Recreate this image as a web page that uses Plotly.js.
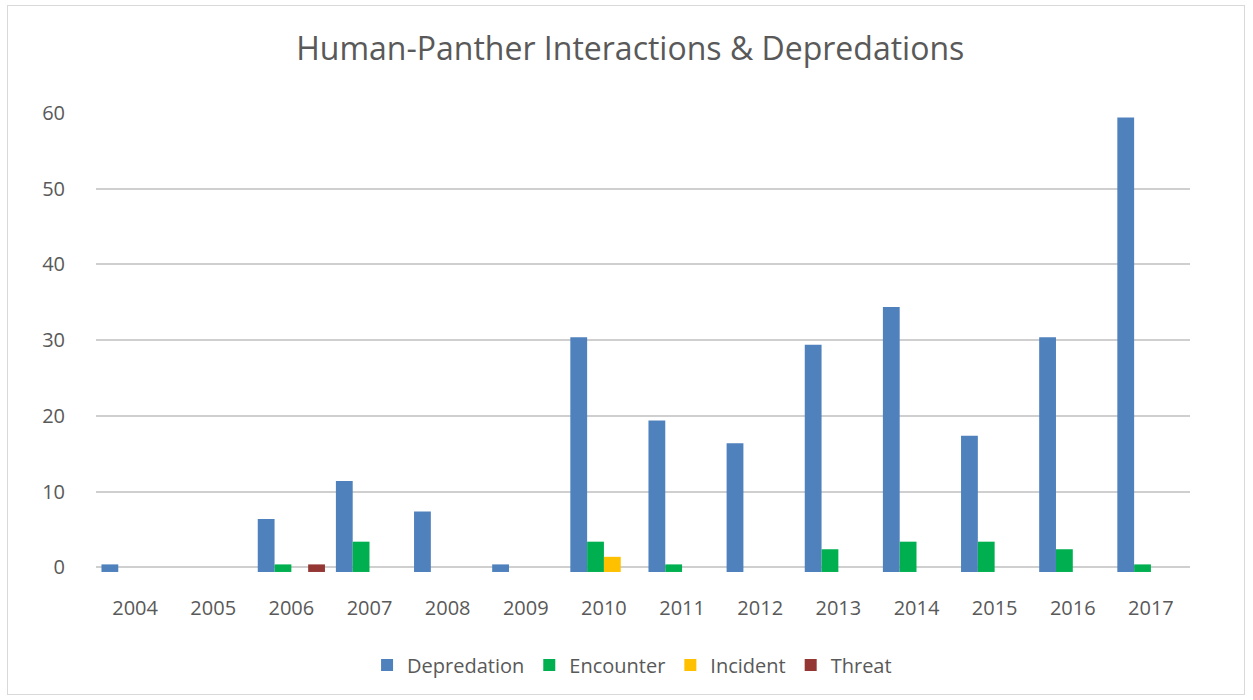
<!DOCTYPE html>
<html>
<head>
<meta charset="utf-8">
<script src="https://cdn.plot.ly/plotly-3.0.1.min.js"></script>
<style>
html,body{margin:0;padding:0;background:#fff;}
#frame{position:absolute;left:7px;top:5px;width:1238px;height:690px;border:1px solid #d9d9d9;box-sizing:border-box;}
#chart{position:absolute;left:0;top:0;width:1253px;height:700px;}
</style>
</head>
<body>
<div id="frame"></div>
<div id="chart"></div>
<script>
const years = ['2004','2005','2006','2007','2008','2009','2010','2011','2012','2013','2014','2015','2016','2017'];
const depredation = [1,0,7,12,8,1,31,20,17,30,35,18,31,60];
const encounter   = [0,0,1,4,0,0,4,1,0,3,4,4,3,1];
const incident    = [0,0,0,0,0,0,2,0,0,0,0,0,0,0];
const threat      = [0,0,1,0,0,0,0,0,0,0,0,0,0,0];
const yTicks = [0,10,20,30,40,50,60];

const series = [
  {name:'Depredation', y:depredation, color:'#4f81bd'},
  {name:'Encounter',   y:encounter,   color:'#00b050'},
  {name:'Incident',    y:incident,    color:'#ffc000'},
  {name:'Threat',      y:threat,      color:'#943634'}
];

const traces = series.map(s => ({
  type:'bar', name:s.name, x:years, y:s.y, base:-0.6,
  marker:{color:s.color, line:{color:s.color, width:0}},
  hoverinfo:'x+y+name'
}));

const layout = {
  width:1253, height:700,
  paper_bgcolor:'rgba(0,0,0,0)', plot_bgcolor:'rgba(0,0,0,0)',
  margin:{l:96, r:63, t:113, b:125},
  title:{text:'Human-Panther Interactions &amp; Depredations', x:0.503, xanchor:'center', y:0.93, yanchor:'middle',
         font:{family:'Open Sans, Liberation Sans, sans-serif', size:32, color:'#595959'}},
  font:{family:'Open Sans, Liberation Sans, sans-serif', color:'#595959'},
  barmode:'group', bargap:0.14, bargroupgap:0,
  xaxis:{type:'category', showgrid:false, zeroline:false, showline:false,
         ticks:'outside', ticklen:15, tickcolor:'rgba(0,0,0,0)',
         tickfont:{size:20, color:'#595959'}},
  yaxis:{range:[-1,60], tickvals:yTicks, ticktext:yTicks.map(String),
         showgrid:true, gridcolor:'#cfcfcf', gridwidth:2, zeroline:false, showline:false,
         ticks:'outside', ticklen:26, tickcolor:'rgba(0,0,0,0)',
         tickfont:{size:20, color:'#595959'}},
  legend:{orientation:'h', x:0.49, xanchor:'center', y:-0.195, yanchor:'middle',
          font:{size:20, color:'#595959'}, itemwidth:30, traceorder:'normal'},
  showlegend:true
};

Plotly.newPlot('chart', traces, layout, {displayModeBar:false, staticPlot:true});
</script>
</body>
</html>
